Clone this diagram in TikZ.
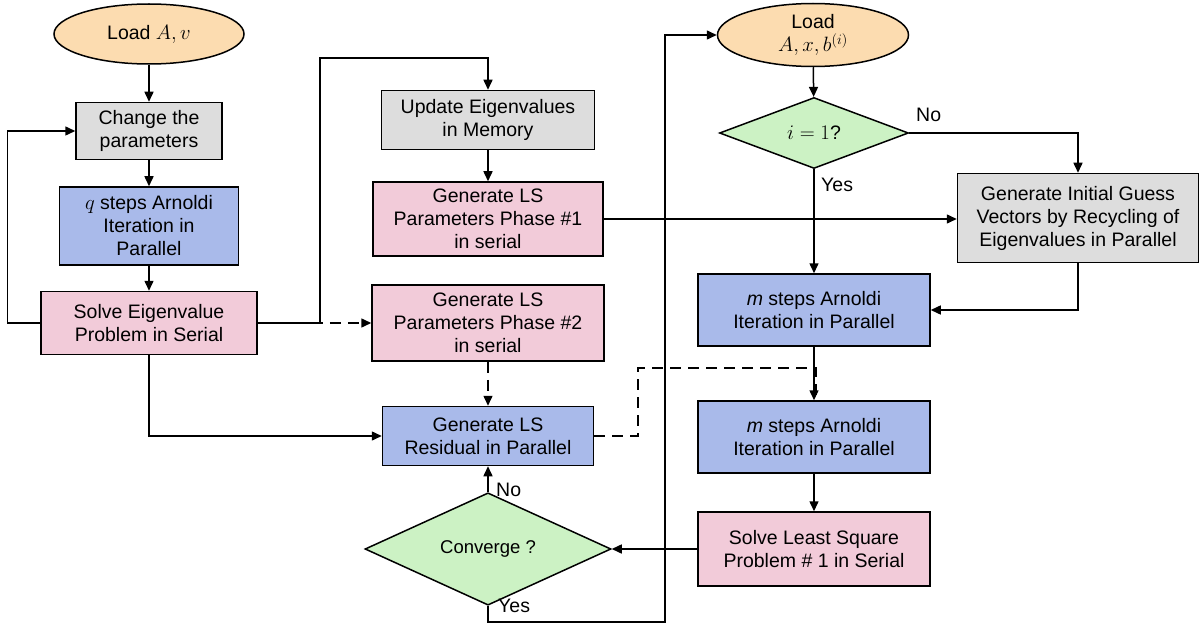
\documentclass[tikz,border=0pt]{standalone}
\usepackage{fontspec}
\setmainfont{Liberation Sans}
\usetikzlibrary{shapes.geometric,arrows.meta}
\definecolor{cOrange}{HTML}{FCDCB0}
\definecolor{cGray}{HTML}{DDDDDD}
\definecolor{cBlue}{HTML}{A9BAEA}
\definecolor{cPink}{HTML}{F2CBD9}
\definecolor{cGreen}{HTML}{CCF2C4}
\newcommand{\txtfont}{\fontsize{19.5}{23}\selectfont}
\begin{document}
\begin{tikzpicture}[x=1pt,y=-1pt,
  boxbase/.style={rectangle, draw=black, line width=1.5pt, align=center, inner sep=0pt, font=\txtfont},
  graybox/.style={boxbase, fill=cGray},
  bluebox/.style={boxbase, fill=cBlue},
  pinkbox/.style={boxbase, fill=cPink},
  startnode/.style={ellipse, draw=black, line width=1.5pt, fill=cOrange, align=center, inner sep=0pt, font=\txtfont},
  decision/.style={diamond, draw=black, line width=1.5pt, fill=cGreen, align=center, inner sep=0pt, font=\txtfont},
  arr/.style={-{Triangle[length=10pt,width=9pt]}, line width=1.5pt},
  dline/.style={line width=1.5pt, dash pattern=on 11pt off 7pt},
  lbl/.style={font=\txtfont, inner sep=0pt}
]
\useasboundingbox (0,0) rectangle (1203,623);

% left column
\node[startnode, minimum width=190pt, minimum height=60pt] (loadA) at (149,34) {Load $A,v$};
\node[graybox, minimum width=146pt, minimum height=57pt] (change) at (149,131) {Change the\\parameters};
\node[bluebox, minimum width=179pt, minimum height=78pt] (qsteps) at (149,226) {$q$ steps Arnoldi\\Iteration in\\Parallel};
\node[pinkbox, minimum width=216pt, minimum height=63pt] (solve) at (149,323) {Solve Eigenvalue\\Problem in Serial};

% middle column
\node[graybox, minimum width=213pt, minimum height=59pt] (update) at (488,120) {Update Eigenvalues\\in Memory};
\node[pinkbox, minimum width=230pt, minimum height=74pt] (ph1) at (488,219) {Generate LS\\Parameters Phase \#1\\in serial};
\node[pinkbox, minimum width=232pt, minimum height=76pt] (ph2) at (488,323) {Generate LS\\Parameters Phase \#2\\in serial};
\node[bluebox, minimum width=211pt, minimum height=59pt] (resid) at (488,436) {Generate LS\\Residual in Parallel};
\node[decision, minimum width=246pt, minimum height=80pt, font=\fontsize{18.5}{22}\selectfont] (conv) at (488,549) {Converge ?};

% right column
\node[startnode, minimum width=191pt, minimum height=63pt] (loadB) at (813,35) {Load\\$A,x,b^{(i)}$};
\node[decision, minimum width=189pt, minimum height=71pt] (dec) at (814,133) {$i=1$?};
\node[graybox, minimum width=241pt, minimum height=89pt] (guess) at (1078,218) {Generate Initial Guess\\Vectors by Recycling of\\Eigenvalues in Parallel};
\node[bluebox, minimum width=232pt, minimum height=72pt] (m1) at (814,310) {\textit{m} steps Arnoldi\\Iteration in Parallel};
\node[bluebox, minimum width=232pt, minimum height=72pt] (m2) at (814,437) {\textit{m} steps Arnoldi\\Iteration in Parallel};
\node[pinkbox, minimum width=232pt, minimum height=74pt] (lsq) at (814,549) {Solve Least Square\\Problem \# 1 in Serial};

\coordinate (c1) at (320,58);
\coordinate (c2) at (665,622);
\coordinate (c3) at (638,368);

% connectors left
\draw[arr] (loadA) -- (change);
\draw[arr] (change) -- (qsteps);
\draw[arr] (qsteps) -- (solve);
\draw[arr] (solve.west) -- ++(-33,0) |- (change.west);
\draw[arr] (solve.east) -| (c1) -| (update.north);
\draw[dline, -{Triangle[length=10pt,width=9pt]}] (solve.east) -- (ph2.west);
\draw[arr] (solve.south) |- (resid.west);

% connectors middle
\draw[arr] (update) -- (ph1);
\draw[arr] (ph1.east) -- (ph1.east -| guess.west);
\draw[dline, -{Triangle[length=10pt,width=9pt]}] (ph2.south) -- (resid.north);
\draw[arr] (conv.north) -- (resid.south);
\node[lbl, anchor=west] (noA) at (496,490) {No};
\draw[arr] (conv.south) |- (c2) |- (loadB.west);
\node[lbl, anchor=west] (yesA) at (498,606) {Yes};
\draw[arr] (lsq.west) -- (conv.east);

% connectors right
\draw[arr] (loadB) -- (dec);
\draw[arr] (dec.east) -| (guess.north);
\node[lbl, anchor=west] (noB) at (916,115) {No};
\draw[arr] (dec.south) -- (m1.north);
\node[lbl, anchor=west] (yesB) at (821,185) {Yes};
\draw[arr] (guess.south) |- (m1.east);
\draw[arr] (m1) -- (m2);
\draw[dline] (resid.east) -| (c3) -| ([xshift=2pt]m2.north);
\draw[arr] (m2) -- (lsq);
\end{tikzpicture}
\end{document}
